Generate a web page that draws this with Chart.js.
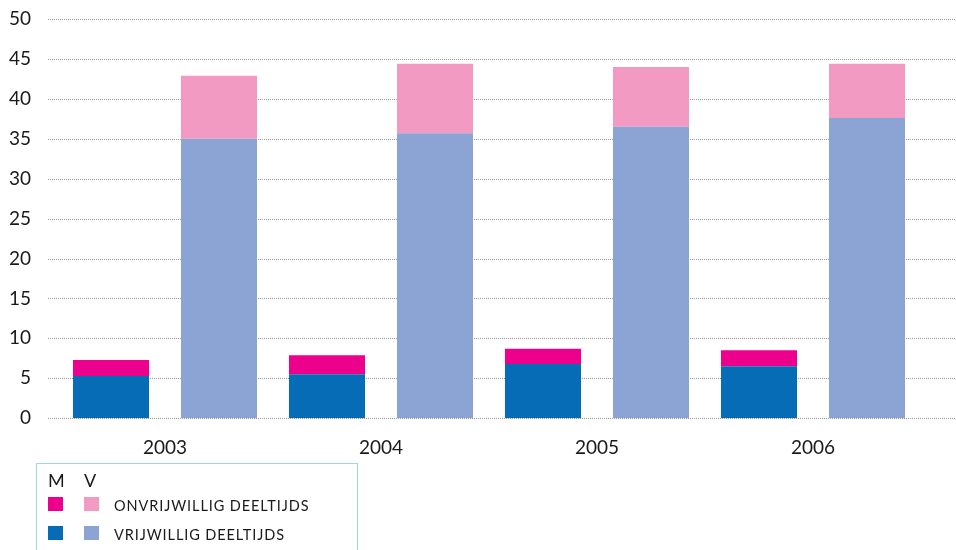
<!DOCTYPE html>
<html>
<head>
<meta charset="utf-8">
<script src="https://cdn.jsdelivr.net/npm/chart.js@4/dist/chart.umd.min.js"></script>
<style>
  html, body { margin: 0; padding: 0; background: #fff; }
  #wrap { position: relative; width: 956px; height: 550px; overflow: hidden; }
  #chart { position: absolute; left: 0; top: 0; }
  #legend {
    position: absolute; left: 36px; top: 463px; width: 322px; height: 120px;
    border: 1.5px solid #9fdae2; box-sizing: border-box;
    font-family: Lato, "Open Sans", sans-serif; color: #1a1a1a;
  }
  #legend .hdr { position: absolute; top: 7px; font-size: 18px; line-height: 18px; }
  #legend .sw { position: absolute; width: 15px; height: 14px; }
  #legend .lbl {
    position: absolute; left: 77px; font-size: 14.5px; line-height: 14px;
    text-transform: uppercase; letter-spacing: 0.9px;
  }
</style>
</head>
<body>
<div id="wrap">
  <canvas id="chart" width="956" height="550"></canvas>
  <div id="legend"></div>
</div>
<script>
// Years on the category axis
const years = ['2003', '2004', '2005', '2006'];

// Part-time workers (%), men (M) and women (V)
const menVoluntary     = [5.3, 5.5, 6.8, 6.5];
const menInvoluntary   = [2.0, 2.4, 1.9, 2.0];
const womenVoluntary   = [35.0, 35.7, 36.5, 37.6];
const womenInvoluntary = [7.9, 8.7, 7.5, 6.8];

// Y-axis range
const yMin = 0, yMax = 50, yStep = 5;

// Legend labels
const groupLabels = ['M', 'V'];
const seriesLabels = ['onvrijwillig deeltijds', 'vrijwillig deeltijds'];

const colors = {
  menVol: '#066cb5', menInv: '#ec008c',
  womenVol: '#8ca4d4', womenInv: '#f39ac2'
};

const FONT = 'Lato, "Open Sans", sans-serif';

// Dotted horizontal gridlines running the full width, drawn behind the bars
const dottedGrid = {
  id: 'dottedGrid',
  beforeDatasetsDraw(chart) {
    const { ctx, scales: { y } } = chart;
    ctx.save();
    ctx.strokeStyle = '#9a9a9a';
    ctx.lineWidth = 1;
    ctx.setLineDash([1, 1]);
    y.ticks.forEach(t => {
      const py = Math.round(y.getPixelForValue(t.value)) + 0.5;
      ctx.beginPath();
      ctx.moveTo(48, py);
      ctx.lineTo(956, py);
      ctx.stroke();
    });
    ctx.restore();
  }
};

new Chart(document.getElementById('chart'), {
  type: 'bar',
  data: {
    labels: years,
    datasets: [
      { label: 'M vrijwillig deeltijds', data: menVoluntary, backgroundColor: colors.menVol, stack: 'M' },
      { label: 'M onvrijwillig deeltijds', data: menInvoluntary, backgroundColor: colors.menInv, stack: 'M' },
      { label: 'V vrijwillig deeltijds', data: womenVoluntary, backgroundColor: colors.womenVol, stack: 'V' },
      { label: 'V onvrijwillig deeltijds', data: womenInvoluntary, backgroundColor: colors.womenInv, stack: 'V' }
    ]
  },
  options: {
    responsive: false,
    animation: false,
    categoryPercentage: 1.0,
    barPercentage: 0.704,
    layout: { padding: { top: 19, right: 35, bottom: 73, left: 0 } },
    plugins: { legend: { display: false }, tooltip: { enabled: false } },
    scales: {
      x: {
        stacked: true,
        grid: { display: false, drawTicks: false },
        border: { display: false },
        ticks: { color: '#1a1a1a', font: { family: FONT, size: 19 }, padding: 18 }
      },
      y: {
        stacked: true,
        min: yMin, max: yMax,
        afterFit(scale) {
          scale.width = 57;
          scale.paddingTop = 0;
          scale.paddingBottom = 0;
        },
        grid: { display: false, drawTicks: false },
        border: { display: false },
        ticks: { stepSize: yStep, color: '#1a1a1a', font: { family: FONT, size: 19 }, padding: 26 }
      }
    }
  },
  plugins: [dottedGrid]
});

// Legend: header letters, two swatch columns, series labels
const legend = document.getElementById('legend');
const colX = [11, 47];
groupLabels.forEach((g, i) => {
  const d = document.createElement('div');
  d.className = 'hdr'; d.style.left = colX[i] + 'px'; d.textContent = g;
  legend.appendChild(d);
});
const rows = [
  { label: seriesLabels[0], cols: [colors.menInv, colors.womenInv], top: 33 },
  { label: seriesLabels[1], cols: [colors.menVol, colors.womenVol], top: 62 }
];
rows.forEach(r => {
  r.cols.forEach((c, i) => {
    const s = document.createElement('div');
    s.className = 'sw'; s.style.left = colX[i] + 'px'; s.style.top = r.top + 'px'; s.style.background = c;
    legend.appendChild(s);
  });
  const t = document.createElement('div');
  t.className = 'lbl'; t.style.top = (r.top + 2) + 'px'; t.textContent = r.label;
  legend.appendChild(t);
});
</script>
</body>
</html>
